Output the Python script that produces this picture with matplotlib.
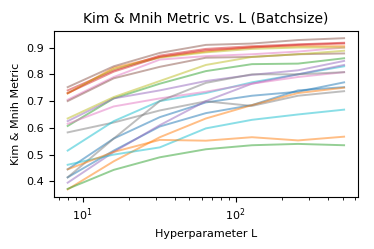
import matplotlib
matplotlib.use("Agg")
import matplotlib.pyplot as plt

L_values = [8, 16, 32, 64, 128, 256, 512]

blue_a   = [0.445, 0.56, 0.64, 0.695, 0.72, 0.735, 0.77]
orange_a = [0.728, 0.825, 0.865, 0.885, 0.902, 0.905, 0.905]
green_a  = [0.607, 0.71, 0.765, 0.812, 0.838, 0.84, 0.86]
red_a    = [0.74, 0.815, 0.87, 0.895, 0.905, 0.912, 0.918]
purple_a = [0.625, 0.71, 0.74, 0.775, 0.798, 0.815, 0.85]
brown_a  = [0.752, 0.83, 0.88, 0.91, 0.915, 0.928, 0.935]
pink_a   = [0.705, 0.79, 0.855, 0.868, 0.875, 0.885, 0.9]
gray_a   = [0.583, 0.62, 0.665, 0.699, 0.682, 0.72, 0.737]
olive_a  = [0.73, 0.82, 0.862, 0.882, 0.895, 0.9, 0.9]
cyan_a   = [0.515, 0.625, 0.70, 0.73, 0.77, 0.80, 0.83]
blue_b   = [0.415, 0.515, 0.605, 0.655, 0.685, 0.74, 0.752]
orange_b = [0.37, 0.475, 0.565, 0.635, 0.685, 0.73, 0.75]
green_b  = [0.372, 0.443, 0.49, 0.52, 0.535, 0.54, 0.535]
red_b    = [0.73, 0.81, 0.865, 0.89, 0.9, 0.91, 0.915]
purple_b = [0.395, 0.51, 0.61, 0.70, 0.765, 0.80, 0.835]
brown_b  = [0.70, 0.785, 0.828, 0.862, 0.865, 0.875, 0.878]
pink_b   = [0.615, 0.68, 0.71, 0.735, 0.765, 0.79, 0.808]
gray_b   = [0.415, 0.56, 0.70, 0.768, 0.80, 0.80, 0.808]
olive_b  = [0.635, 0.715, 0.775, 0.835, 0.865, 0.875, 0.888]
cyan_b   = [0.462, 0.50, 0.527, 0.598, 0.63, 0.65, 0.668]
orange_c = [0.445, 0.51, 0.555, 0.552, 0.565, 0.553, 0.567]

series = [blue_a, orange_a, green_a, red_a, purple_a, brown_a, pink_a, gray_a, olive_a, cyan_a,
          blue_b, orange_b, green_b, red_b, purple_b, brown_b, pink_b, gray_b, olive_b, cyan_b,
          orange_c]
colors = [f"C{i % 10}" for i in range(20)] + ["C1"]

fig = plt.figure(figsize=(3.74, 2.49), dpi=100)
ax = fig.add_axes([0.144, 0.209, 0.813, 0.668])
for s, c in zip(series, colors):
    ax.plot(L_values, s, color=c, alpha=0.5, lw=1.4)
ax.set_xscale("log")
ax.set_title("Kim & Mnih Metric vs. L (Batchsize)", fontsize=10)
ax.set_xlabel("Hyperparameter L", fontsize=8)
ax.set_ylabel("Kim & Mnih Metric", fontsize=8)
ax.tick_params(labelsize=8)
fig.savefig("out.png", dpi=100)
